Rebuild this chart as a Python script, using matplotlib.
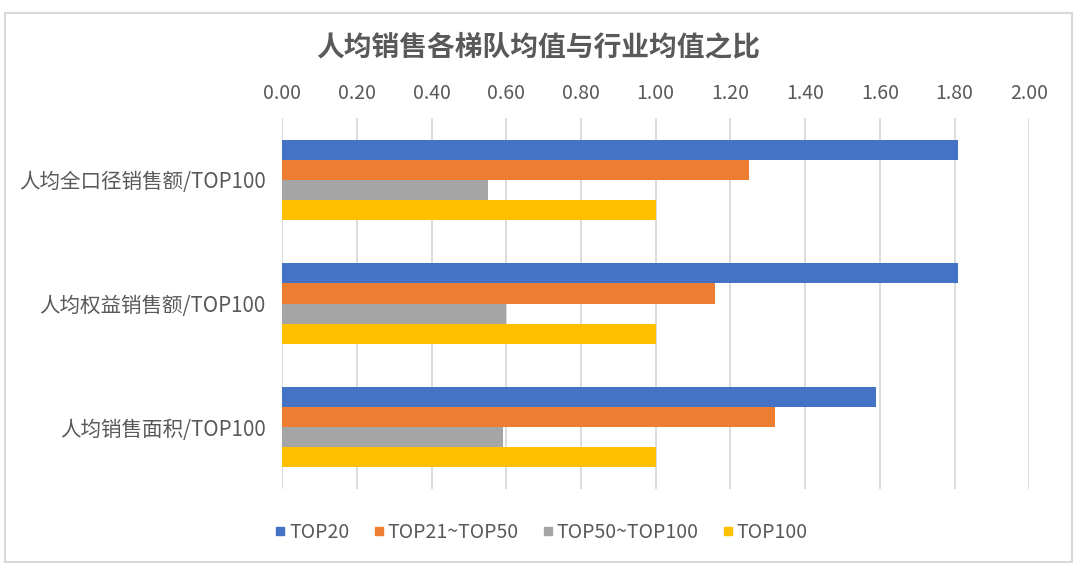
import matplotlib
matplotlib.use('Agg')
import matplotlib.pyplot as plt
from matplotlib import font_manager
from matplotlib.lines import Line2D
from matplotlib.patches import Rectangle
import numpy as np

plt.rcParams['font.family'] = ['Noto Sans CJK SC', 'DejaVu Sans']

# data
categories = ['人均全口径销售额/TOP100', '人均权益销售额/TOP100', '人均销售面积/TOP100']
series = ['TOP20', 'TOP21~TOP50', 'TOP50~TOP100', 'TOP100']
top20 = [1.81, 1.81, 1.59]
top21_50 = [1.25, 1.16, 1.32]
top50_100 = [0.55, 0.60, 0.59]
top100 = [1.00, 1.00, 1.00]
xticks = [0.0, 0.2, 0.4, 0.6, 0.8, 1.0, 1.2, 1.4, 1.6, 1.8, 2.0]

colors = ['#4472C4', '#ED7D31', '#A5A5A5', '#FFC000']
txt = '#595959'
grid = '#D9D9D9'

names = {f.name for f in font_manager.fontManager.ttflist}
num_font = 'Liberation Sans Narrow' if 'Liberation Sans Narrow' in names else 'Noto Sans CJK SC'

fig = plt.figure(figsize=(10.8, 5.73), dpi=100)
ax = fig.add_axes([282.2 / 1080, 1 - 489 / 573, 747 / 1080, 371 / 573])

y = np.arange(len(categories))
h = 0.162
vals = [top20, top21_50, top50_100, top100]
for i, v in enumerate(vals):
    ax.barh(y + (i - 1.5) * h, v, height=h, color=colors[i], zorder=3, label=series[i])

ax.set_xlim(0, 2.0)
ax.set_ylim(2.5, -0.5)
ax.xaxis.tick_top()
ax.set_xticks(xticks)
ax.set_xticklabels(['%.2f' % t for t in xticks], family=[num_font, 'DejaVu Sans'],
                   fontsize=14, color=txt)
ax.set_yticks(y)
ax.set_yticklabels(categories, fontsize=14.8, color=txt)
ax.tick_params(axis='x', length=0, pad=10)
ax.tick_params(axis='y', length=0, pad=12)
ax.grid(axis='x', color=grid, lw=1.3, zorder=0)
for s in ax.spines.values():
    s.set_visible(False)

fig.text(538 / 1080, 1 - 47 / 573, '人均销售各梯队均值与行业均值之比', ha='center', va='center',
         fontsize=20, fontweight='bold', color=txt)

handles = [Line2D([], [], marker='s', ls='', color=c, markersize=5.5) for c in colors]
fig.legend(handles, series, loc='center', bbox_to_anchor=(541 / 1080, 1 - 532 / 573),
           ncol=4, frameon=False, fontsize=14, labelcolor=txt,
           handlelength=0.6, handletextpad=0.15, columnspacing=1.2)

fig.patches.append(Rectangle((5 / 1080, 1 - 562 / 573), 1067 / 1080, 549 / 573,
                             transform=fig.transFigure, fill=False, ec=grid, lw=1.5))

fig.savefig('out.png', dpi=100, facecolor='white')
